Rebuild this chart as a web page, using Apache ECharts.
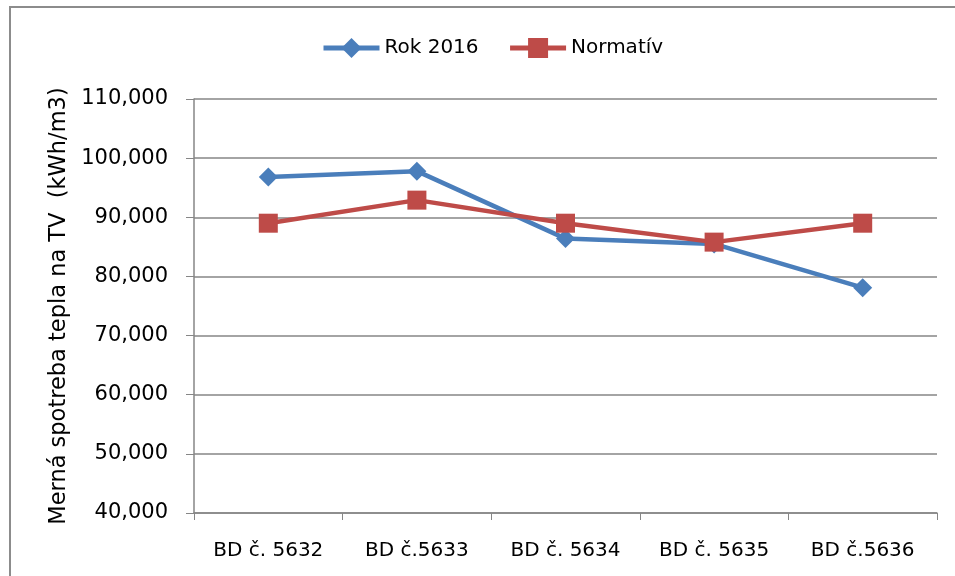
<!DOCTYPE html>
<html>
<head>
<meta charset="utf-8">
<script src="https://cdn.jsdelivr.net/npm/echarts@6/dist/echarts.min.js"></script>
<style>
  html, body { margin: 0; padding: 0; background: #fff; }
  #chart { width: 955px; height: 576px; }
</style>
</head>
<body>
<div id="chart"></div>
<script>
// Buildings compared
const categories = ['BD č. 5632', 'BD č.5633', 'BD č. 5634', 'BD č. 5635', 'BD č.5636'];
// Specific heat consumption for hot water (kWh/m3)
const rok2016 = [96.8, 97.8, 86.4, 85.5, 78.1];
const normativ = [89.0, 92.9, 89.0, 85.8, 89.0];

const FONT = '"DejaVu Sans", sans-serif';
const BLUE = '#4a7ebb';
const RED = '#be4b48';
const GRID = '#868686';

const chart = echarts.init(document.getElementById('chart'), null, { renderer: 'canvas' });

chart.setOption({
  animation: false,
  backgroundColor: '#fff',
  graphic: [{
    type: 'rect',
    shape: { x: 10, y: 7, width: 1000, height: 600 },
    style: { fill: 'none', stroke: '#8c8c8c', lineWidth: 2 },
    silent: true
  }],
  legend: {
    top: 33,
    left: 316,
    itemWidth: 56,
    itemHeight: 25,
    itemGap: 29,
    lineStyle: { width: 5 },
    textStyle: { fontFamily: FONT, fontSize: 20, color: '#000' },
    data: ['Rok 2016', 'Normatív']
  },
  grid: { left: 194, right: 18, top: 99, bottom: 63, containLabel: false },
  xAxis: {
    type: 'category',
    data: categories,
    boundaryGap: true,
    axisLine: { lineStyle: { color: GRID, width: 1.5 } },
    axisTick: { show: true, length: 7, alignWithLabel: false, lineStyle: { color: GRID } },
    axisLabel: { fontFamily: FONT, fontSize: 20, color: '#000', margin: 28 }
  },
  yAxis: {
    type: 'value',
    min: 40,
    max: 110,
    interval: 10,
    name: 'Merná spotreba tepla na TV  (kWh/m3)',
    nameLocation: 'middle',
    nameGap: 121,
    nameTextStyle: { fontFamily: FONT, fontSize: 22.5, color: '#000' },
    axisLine: { show: true, lineStyle: { color: GRID, width: 1.5 } },
    axisTick: { show: true, length: 8, lineStyle: { color: GRID } },
    axisLabel: {
      fontFamily: FONT, fontSize: 21, color: '#000', margin: 26,
      formatter: v => v.toFixed(0) + ',000'
    },
    splitLine: { show: true, lineStyle: { color: GRID, width: 1.5 } }
  },
  series: [
    {
      name: 'Rok 2016',
      type: 'line',
      data: rok2016,
      symbol: 'diamond',
      symbolSize: 19,
      lineStyle: { color: BLUE, width: 4.5 },
      itemStyle: { color: BLUE },
      z: 2
    },
    {
      name: 'Normatív',
      type: 'line',
      data: normativ,
      symbol: 'rect',
      symbolSize: 19,
      lineStyle: { color: RED, width: 4.5 },
      itemStyle: { color: RED },
      z: 3
    }
  ]
});
</script>
</body>
</html>
